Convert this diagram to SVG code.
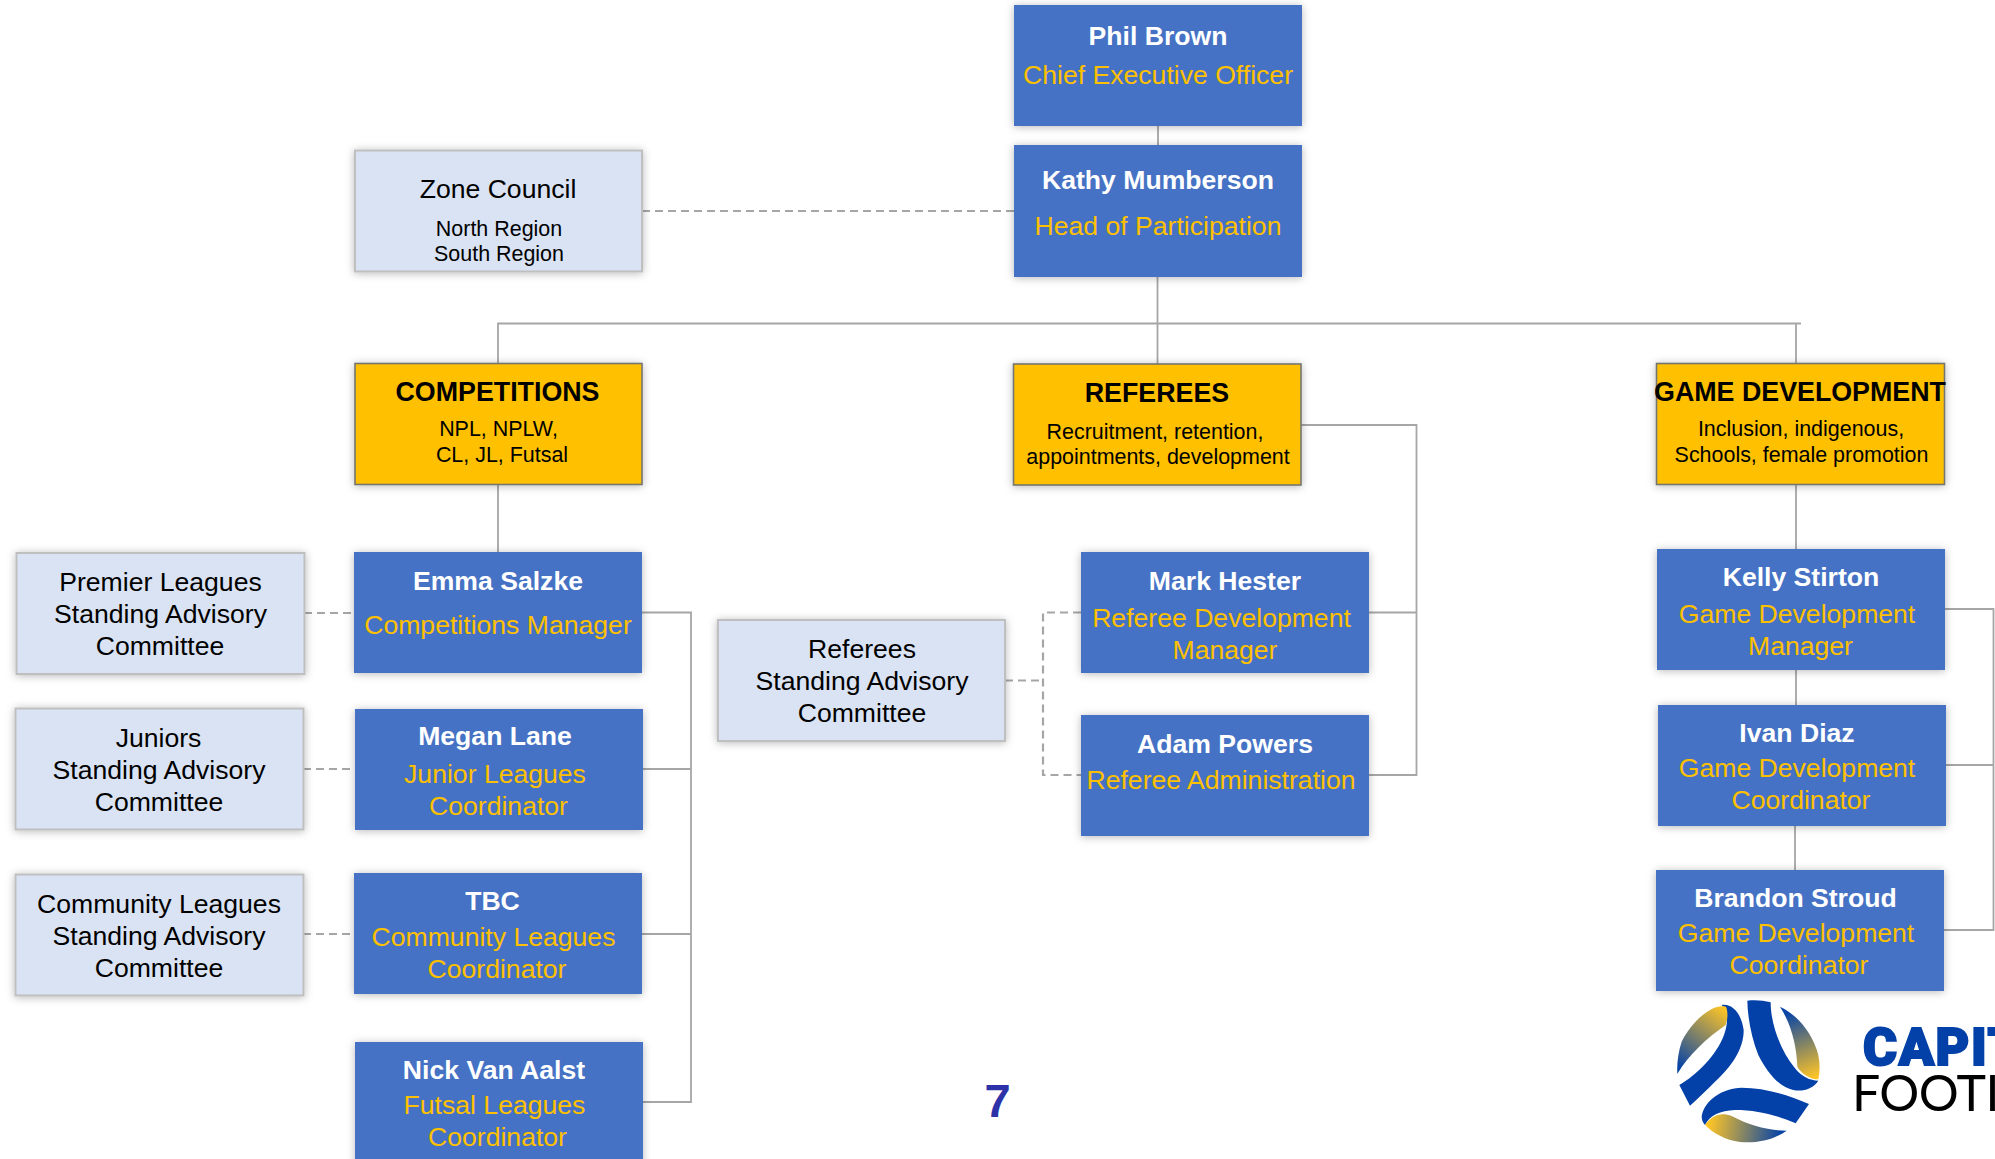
<svg xmlns="http://www.w3.org/2000/svg" width="1995" height="1159" viewBox="0 0 1995 1159">
<style>
text{font-family:"Liberation Sans",Arial,sans-serif;text-anchor:middle;font-size:26.6px}
.box{filter:url(#sh)}
.blue{fill:#4472c4}
.pale{fill:#dae3f3;stroke:#bfbfbf;stroke-width:2}
.gold{fill:#ffc000;stroke:#757570;stroke-width:1.6}
.n{fill:#fff;font-weight:700}
.r{fill:#ffc000}
.k{fill:#000}
.t{fill:#000;font-weight:700;font-size:26.8px}
.s{fill:#000;font-size:21.45px}
.c{fill:none;stroke:#a6a6a6;stroke-width:1.8}
.d{fill:none;stroke:#a6a6a6;stroke-width:2.2;stroke-dasharray:8 5}
.lb{fill:#0341a8}
</style>
<defs>
<filter id="sh" x="-10%" y="-15%" width="120%" height="130%"><feDropShadow dx="0" dy="1" stdDeviation="4" flood-color="#000" flood-opacity=".28"/></filter>
<linearGradient id="g1" x1="375" y1="145" x2="240" y2="320" gradientUnits="userSpaceOnUse"><stop offset="0" stop-color="#ffc525"/><stop offset="1" stop-color="#0a45a5"/></linearGradient>
<linearGradient id="g2" x1="640" y1="355" x2="565" y2="160" gradientUnits="userSpaceOnUse"><stop offset="0" stop-color="#ffc525"/><stop offset="1" stop-color="#0a45a5"/></linearGradient>
<linearGradient id="g3" x1="325" y1="490" x2="540" y2="520" gradientUnits="userSpaceOnUse"><stop offset="0" stop-color="#ffc525"/><stop offset="1" stop-color="#0a45a5"/></linearGradient>
</defs>
<g id="connectors">
<path class="c" d="M1158 126V145M1157.500 277V364M498 484V552M498 363V323.500H1801M1796 323.500V363M1796 484V549M1796 670V705M1795 826V870"/>
<path class="c" d="M1945 609H1993.500V930H1944M1946 765H1993.500M1301 425H1416.500V775H1369M1369 612.500H1416.500M642 612.500H691V1102H643M643 769H691M642 934H691"/>
<path class="d" d="M642 211H1014M304 613H354M303 769H355M303 934H354M1005 680.500H1043M1081 612.500H1043V775H1081"/>
</g>
<g id="phil"><rect class="box blue" x="1014" y="5" width="288" height="121"/><text class="n" x="1158" y="45">Phil Brown</text><text class="r" x="1158" y="84">Chief Executive Officer</text></g>
<g id="kathy"><rect class="box blue" x="1014" y="145" width="288" height="132"/><text class="n" x="1158" y="189">Kathy Mumberson</text><text class="r" x="1158" y="235">Head of Participation</text></g>
<g id="zone"><rect class="box pale" x="355" y="150.500" width="287" height="121"/><text class="k" x="498" y="198">Zone Council</text><text class="s" x="499" y="236">North Region</text><text class="s" x="499" y="260.500">South Region</text></g>
<g id="competitions"><rect class="box gold" x="355" y="363.500" width="287" height="121"/><text class="t" x="497.500" y="401">COMPETITIONS</text><text class="s" x="498.500" y="436">NPL, NPLW,</text><text class="s" x="502" y="461.500">CL, JL, Futsal</text></g>
<g id="referees"><rect class="box gold" x="1013.500" y="364" width="287.500" height="121"/><text class="t" x="1157" y="401.500">REFEREES</text><text class="s" x="1155" y="439">Recruitment, retention,</text><text class="s" x="1158" y="464">appointments, development</text></g>
<g id="gamedev"><rect class="box gold" x="1656.500" y="363.500" width="288" height="121"/><text class="t" x="1800" y="401">GAME DEVELOPMENT</text><text class="s" x="1801" y="436">Inclusion, indigenous,</text><text class="s" x="1801.500" y="461.500">Schools, female promotion</text></g>
<g id="premier"><rect class="box pale" x="16.500" y="553" width="288" height="121"/><text class="k" x="160.500" y="591">Premier Leagues</text><text class="k" x="160.500" y="622.500">Standing Advisory</text><text class="k" x="160" y="654.500">Committee</text></g>
<g id="juniors"><rect class="box pale" x="15.500" y="708.500" width="288" height="121"/><text class="k" x="158.500" y="747">Juniors</text><text class="k" x="159" y="779">Standing Advisory</text><text class="k" x="159" y="811">Committee</text></g>
<g id="community"><rect class="box pale" x="15.500" y="874.500" width="288" height="121"/><text class="k" x="159" y="913">Community Leagues</text><text class="k" x="159" y="944.500">Standing Advisory</text><text class="k" x="159" y="977">Committee</text></g>
<g id="emma"><rect class="box blue" x="354" y="552" width="288" height="121"/><text class="n" x="498" y="590">Emma Salzke</text><text class="r" x="498" y="634">Competitions Manager</text></g>
<g id="megan"><rect class="box blue" x="355" y="709" width="288" height="121"/><text class="n" x="495" y="745">Megan Lane</text><text class="r" x="495" y="783">Junior Leagues</text><text class="r" x="498.500" y="815">Coordinator</text></g>
<g id="tbc"><rect class="box blue" x="354" y="873" width="288" height="121"/><text class="n" x="492.500" y="910">TBC</text><text class="r" x="493.500" y="946">Community Leagues</text><text class="r" x="497" y="978">Coordinator</text></g>
<g id="nick"><rect class="box blue" x="355" y="1042" width="288" height="125"/><text class="n" x="494" y="1079">Nick Van Aalst</text><text class="r" x="494.500" y="1113.500">Futsal Leagues</text><text class="r" x="497.500" y="1145.500">Coordinator</text></g>
<g id="refcommittee"><rect class="box pale" x="718" y="620" width="287" height="121"/><text class="k" x="862" y="658">Referees</text><text class="k" x="862" y="690">Standing Advisory</text><text class="k" x="862" y="722">Committee</text></g>
<g id="mark"><rect class="box blue" x="1081" y="552" width="288" height="121"/><text class="n" x="1225" y="590">Mark Hester</text><text class="r" x="1221.500" y="627">Referee Development</text><text class="r" x="1225" y="659">Manager</text></g>
<g id="adam"><rect class="box blue" x="1081" y="715" width="288" height="121"/><text class="n" x="1225" y="753">Adam Powers</text><text class="r" x="1221" y="789">Referee Administration</text></g>
<g id="kelly"><rect class="box blue" x="1657" y="549" width="288" height="121"/><text class="n" x="1801" y="585.500">Kelly Stirton</text><text class="r" x="1797" y="622.500">Game Development</text><text class="r" x="1800.500" y="654.500">Manager</text></g>
<g id="ivan"><rect class="box blue" x="1658" y="705" width="288" height="121"/><text class="n" x="1797" y="741.500">Ivan Diaz</text><text class="r" x="1797" y="776.500">Game Development</text><text class="r" x="1801" y="808.500">Coordinator</text></g>
<g id="brandon"><rect class="box blue" x="1656" y="870" width="288" height="121"/><text class="n" x="1795.500" y="906.500">Brandon Stroud</text><text class="r" x="1796" y="941.500">Game Development</text><text class="r" x="1799" y="973.500">Coordinator</text></g>
<text x="997.500" y="1116.500" style="font-size:47px;font-weight:700;fill:#2e32a8">7</text>
<g id="logo">
<g transform="translate(1600 960) scale(.33333)">
<path class="lb" d="M365 135C400 130 425 165 431 210C432 265 395 320 345 365C320 390 295 415 270 437L238 375C290 345 350 285 372 225C385 190 385 155 365 135Z"/>
<path fill="url(#g1)" d="M378 140C335 130 275 185 245 245C235 275 230 310 232 342C265 285 320 235 377 195C384 175 384 155 378 140Z"/>
<path class="lb" d="M442 122C465 119 490 121 512 127C512 190 540 270 585 325C605 350 630 362 655 362C640 385 610 396 580 390C535 380 500 335 475 285C455 235 443 175 442 122Z"/>
<path fill="url(#g2)" d="M540 140C595 165 640 225 655 285C660 310 660 335 655 358C630 358 605 342 592 320C590 260 575 195 540 140Z"/>
<path class="lb" d="M305 468C315 420 365 385 425 383C495 383 565 405 627 432L587 490C530 465 470 450 405 450C360 452 330 465 315 495C308 488 305 478 305 468Z"/>
<path fill="url(#g3)" d="M315 495C335 465 365 455 395 468C445 495 505 512 560 512C520 540 470 550 420 546C375 540 340 520 315 495Z"/>
</g>
<text x="1863" y="1065" style="text-anchor:start;font-family:Roboto,'Liberation Sans',sans-serif;font-weight:900;font-size:52px;letter-spacing:1.5px;fill:#0341a8;stroke:#0341a8;stroke-width:2">CAPIT</text>
<text x="1852" y="1110.500" style="text-anchor:start;font-family:Lato,'Liberation Sans',sans-serif;font-size:50px;letter-spacing:-.6px;fill:#000">FOOTI</text>
</g>
</svg>
